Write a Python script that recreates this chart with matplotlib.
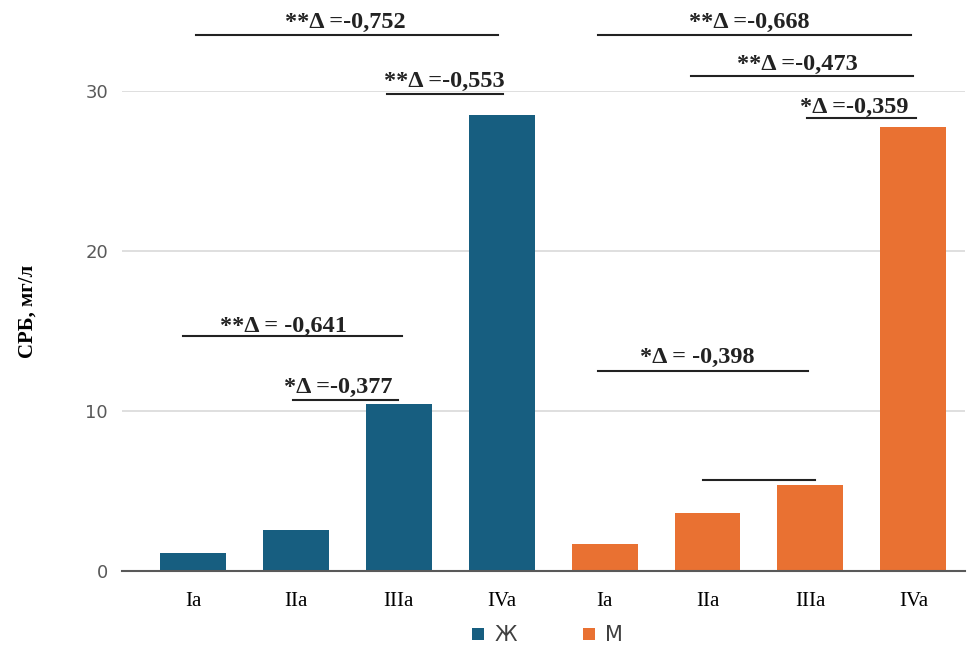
import matplotlib.pyplot as plt
import numpy as np

categories = ['Ia', 'IIa', 'IIIa', 'IVa']
women = [1.08, 2.55, 10.4, 28.45]
men = [1.67, 3.58, 5.35, 27.7]

# significance brackets: label, x from, x to, line level, text x, text offset
brackets = [
    ('**Δ =-0,752', 0.03, 2.96, 33.48, 1.48, 0.44),
    ('**Δ =-0,553', 1.89, 3.01, 29.77, 2.44, 0.44),
    ('**Δ = -0,641', -0.10, 2.03, 14.67, 0.875, 0.28),
    ('*Δ =-0,377', 0.97, 1.99, 10.67, 1.41, 0.44),
    ('**Δ =-0,668', 3.94, 6.98, 33.48, 5.41, 0.44),
    ('**Δ =-0,473', 4.84, 7.00, 30.92, 5.87, 0.38),
    ('*Δ =-0,359', 5.97, 7.03, 28.29, 6.43, 0.32),
    ('*Δ = -0,398', 3.94, 5.98, 12.48, 4.90, 0.50),
    ('', 4.96, 6.04, 5.67, 5.5, 0.0),
]

blue = '#175E80'
orange = '#E97132'

fig = plt.figure(figsize=(9.71, 6.5), dpi=100)
ax = fig.add_axes([0.1256, 0.122, 0.868, 0.7385])

x_w = np.arange(len(categories))
x_m = np.arange(len(categories)) + len(categories)
ax.bar(x_w, women, width=0.64, color=blue, label='Ж', zorder=3)
ax.bar(x_m, men, width=0.64, color=orange, label='М', zorder=3)

ax.set_xlim(-0.69, 7.5)
ax.set_ylim(0, 30)
ax.set_yticks([0, 10, 20, 30])
ax.set_xticks(list(x_w) + list(x_m))
ax.set_xticklabels(categories * 2, family='Liberation Serif', fontsize=15)
ax.tick_params(axis='x', length=0, pad=15)
ax.tick_params(axis='y', length=0, pad=10, labelsize=13, labelcolor='#595959')
ax.grid(axis='y', color='#D9D9D9', linewidth=1.2, zorder=0)
for s in ['top', 'right', 'left']:
    ax.spines[s].set_visible(False)
ax.spines['bottom'].set_color('#595959')
ax.spines['bottom'].set_linewidth(1.5)
ax.spines['bottom'].set_zorder(4)

ax.set_ylabel('СРБ, мг/л', family='Liberation Serif', fontweight='bold',
              fontsize=15)
ax.yaxis.set_label_coords(-0.10, 0.54)

for label, x0, x1, y, tx, dy in brackets:
    ax.plot([x0, x1], [y, y], color='#222222', linewidth=1.5,
            clip_on=False, zorder=5)
    if label:
        ax.text(tx, y + dy, label, ha='center', va='baseline',
                family='Liberation Serif', fontweight='bold', fontsize=17.5,
                color='#222222', clip_on=False)

leg = ax.legend(loc='upper center', bbox_to_anchor=(0.505, -0.075), ncol=2,
                frameon=False, fontsize=15, handlelength=0.55, handleheight=0.55,
                columnspacing=3.2, handletextpad=0.5)
for t in leg.get_texts():
    t.set_color('#404040')

fig.savefig('out.png', dpi=100)
